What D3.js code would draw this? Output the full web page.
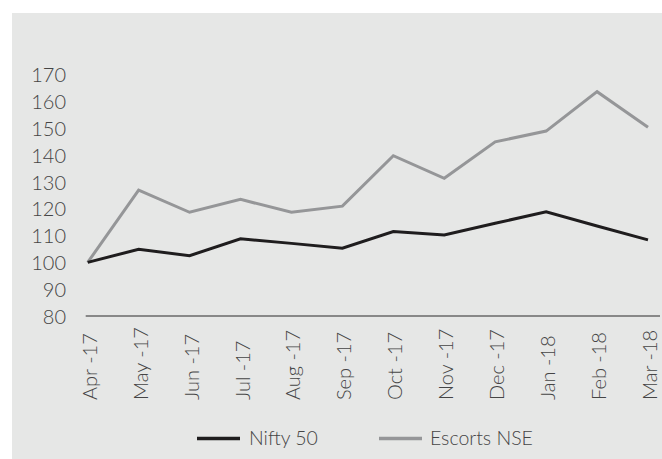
<!DOCTYPE html>
<html>
<head>
<meta charset="utf-8">
<script src="https://cdn.jsdelivr.net/npm/d3@7"></script>
<style>
  html, body { margin: 0; padding: 0; background: #ffffff; }
  svg { display: block; }
  text { font-family: "Lato", "Open Sans", sans-serif; font-weight: 300; fill: #454545; }
</style>
</head>
<body>
<svg id="chart" width="662" height="459"></svg>
<script>
const months = ["Apr -17","May -17","Jun -17","Jul -17","Aug -17","Sep -17","Oct -17","Nov -17","Dec -17","Jan -18","Feb -18","Mar -18"];
const nifty50 = [100, 104.9, 102.5, 108.8, 107.1, 105.3, 111.5, 110.2, 114.6, 118.9, 113.6, 108.4];
const escortsNSE = [100, 127, 118.7, 123.5, 118.7, 121, 139.8, 131.4, 145, 149, 163.7, 150.4];
const yTicks = [80, 90, 100, 110, 120, 130, 140, 150, 160, 170];
const seriesNames = ["Nifty 50", "Escorts NSE"];
const seriesColors = ["#1f1d1e", "#959698"];

const svg = d3.select("#chart");
svg.append("rect").attr("x", 12).attr("y", 13).attr("width", 650).attr("height", 446).attr("fill", "#e6e7e6");

const x = d3.scalePoint().domain(months).range([87.7, 648]);
const y = d3.scaleLinear().domain([80, 170]).range([316, 74.8]);

// y axis labels
const yAxis = d3.axisLeft(y).tickValues(yTicks).tickSize(0).tickPadding(0).tickFormat(d3.format("d"));
const gy = svg.append("g").attr("transform", "translate(66,0)").call(yAxis);
gy.select(".domain").remove();
gy.selectAll("text").attr("font-size", 20).attr("font-family", "Lato").attr("font-weight", 300).attr("fill", "#454545").attr("dy", "0.35em");

// x axis line
svg.append("line").attr("x1", x(months[0]) - 2).attr("x2", x(months[months.length-1]) + 12)
  .attr("y1", y(80)).attr("y2", y(80)).attr("stroke", "#2a2a2a").attr("stroke-width", 1.2);

// x labels
svg.append("g").selectAll("text").data(months).join("text")
  .attr("transform", d => `translate(${x(d) + 9},400) rotate(-90)`)
  .attr("text-anchor", "start")
  .attr("font-size", 20)
  .text(d => d);

const line = d3.line().x((d, i) => x(months[i])).y(d => y(d));
[escortsNSE, nifty50].forEach((s, k) => {
  svg.append("path").datum(s).attr("d", line).attr("fill", "none")
    .attr("stroke", k === 0 ? seriesColors[1] : seriesColors[0])
    .attr("stroke-width", 3).attr("stroke-linejoin", "miter");
});

// legend
const legend = [
  {name: seriesNames[0], color: seriesColors[0], x1: 197, x2: 240, tx: 249},
  {name: seriesNames[1], color: seriesColors[1], x1: 379, x2: 422, tx: 430}
];
const lg = svg.append("g");
legend.forEach(l => {
  lg.append("line").attr("x1", l.x1).attr("x2", l.x2).attr("y1", 438.5).attr("y2", 438.5)
    .attr("stroke", l.color).attr("stroke-width", 3.5);
  lg.append("text").attr("x", l.tx).attr("y", 438.5).attr("dy", "0.35em").attr("font-size", 19.5).text(l.name);
});
</script>
</body>
</html>
